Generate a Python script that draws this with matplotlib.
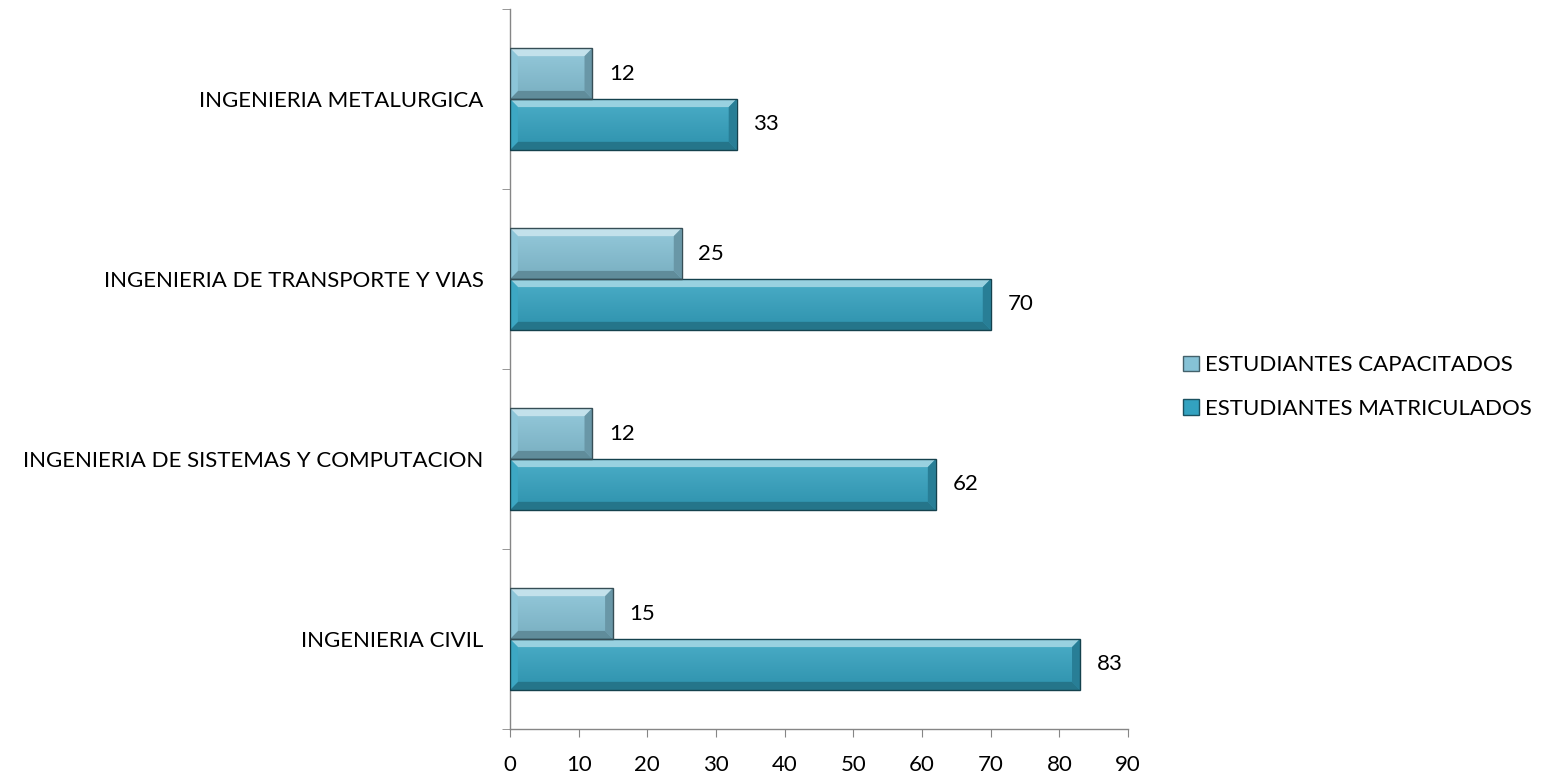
import matplotlib
matplotlib.use("Agg")
import matplotlib.pyplot as plt
import numpy as np
from matplotlib.patches import Polygon, Patch
from matplotlib.colors import to_rgb

# data, bottom to top as in the chart
carreras = ["INGENIERIA CIVIL",
            "INGENIERIA DE SISTEMAS Y COMPUTACION",
            "INGENIERIA DE TRANSPORTE Y VIAS",
            "INGENIERIA METALURGICA"]
capacitados = [15, 12, 25, 12]
matriculados = [83, 62, 70, 33]

col_cap = "#86c2d6"
col_mat = "#33a2c0"

plt.rcParams['font.family'] = ['Lato', 'DejaVu Sans']


def shade(c, f):
    r, g, b = to_rgb(c)
    if f >= 0:
        return (r + (1 - r) * f, g + (1 - g) * f, b + (1 - b) * f)
    return (r * (1 + f), g * (1 + f), b * (1 + f))


def bevel_bar(ax, rect, color):
    # gradient body plus bevelled edges, like the office "bevel" bar style
    x0, y0 = rect.get_x(), rect.get_y()
    w, h = rect.get_width(), rect.get_height()
    x1, y1 = x0 + w, y0 + h
    top = np.array(shade(color, 0.12))
    bot = np.array(shade(color, -0.1))
    t = np.linspace(0, 1, 64)[:, None]
    grad = (top * (1 - t) + bot * t)[:, None, :]
    im = ax.imshow(grad, extent=(x0, x1, y0, y1), origin='upper', aspect='auto',
                   zorder=2, interpolation='bilinear')
    im.set_clip_path(rect)
    bx, by = 1.15, 0.045
    bx = min(bx, w / 2)
    faces = [
        ([(x0, y1), (x1, y1), (x1 - bx, y1 - by), (x0 + bx, y1 - by)], shade(color, 0.5)),
        ([(x0, y0), (x1, y0), (x1 - bx, y0 + by), (x0 + bx, y0 + by)], shade(color, -0.28)),
        ([(x0, y0), (x0, y1), (x0 + bx, y1 - by), (x0 + bx, y0 + by)], shade(color, 0.05)),
        ([(x1, y0), (x1, y1), (x1 - bx, y1 - by), (x1 - bx, y0 + by)], shade(color, -0.22)),
    ]
    for pts, fc in faces:
        ax.add_patch(Polygon(pts, closed=True, facecolor=fc, edgecolor='none', zorder=3))
    ax.add_patch(plt.Rectangle((x0, y0), w, h, fill=False, edgecolor=shade(color, -0.6),
                               linewidth=1.0, zorder=4))


fig = plt.figure(figsize=(15.49, 7.77), dpi=100)
ax = fig.add_axes([510 / 1549, 48 / 777, 618 / 1549, 720 / 777])

y = np.arange(len(carreras))
h = 0.283
bars_mat = ax.barh(y - h / 2, matriculados, height=h, color='none', zorder=1)
bars_cap = ax.barh(y + h / 2, capacitados, height=h, color='none', zorder=1)

for r in bars_mat:
    bevel_bar(ax, r, col_mat)
for r in bars_cap:
    bevel_bar(ax, r, col_cap)

for bars, vals in ((bars_mat, matriculados), (bars_cap, capacitados)):
    for r, v in zip(bars, vals):
        ax.annotate(str(v), (r.get_width(), r.get_y() + r.get_height() / 2),
                    xytext=(12, 0), textcoords='offset points', ha='left', va='center',
                    fontsize=16, color='#000000')

ax.set_xlim(0, 90)
ax.set_ylim(-0.5, len(carreras) - 0.5)
ax.set_xticks(np.arange(0, 91, 10))
ax.set_yticks(y)
ax.set_yticklabels(carreras)
ax.set_yticks(np.arange(-0.5, len(carreras), 1), minor=True)
ax.tick_params(axis='y', which='major', length=0, pad=19, labelsize=16)
ax.tick_params(axis='y', which='minor', length=6, direction='out', color='#868686')
ax.tick_params(axis='x', length=6, direction='out', color='#868686', labelsize=16, pad=13)

for s in ('top', 'right'):
    ax.spines[s].set_visible(False)
for s in ('left', 'bottom'):
    ax.spines[s].set_color('#868686')
    ax.spines[s].set_linewidth(1.0)

handles = [Patch(facecolor=col_cap, edgecolor=shade(col_cap, -0.5)),
           Patch(facecolor=col_mat, edgecolor=shade(col_mat, -0.5))]
fig.legend(handles, ["ESTUDIANTES CAPACITADOS", "ESTUDIANTES MATRICULADOS"],
           loc='center left', bbox_to_anchor=(1163 / 1549, 1 - 387 / 777),
           frameon=False, fontsize=16, handlelength=0.7, handleheight=0.7,
           handletextpad=0.3, labelspacing=1.05)

fig.savefig("out.png", dpi=100)
